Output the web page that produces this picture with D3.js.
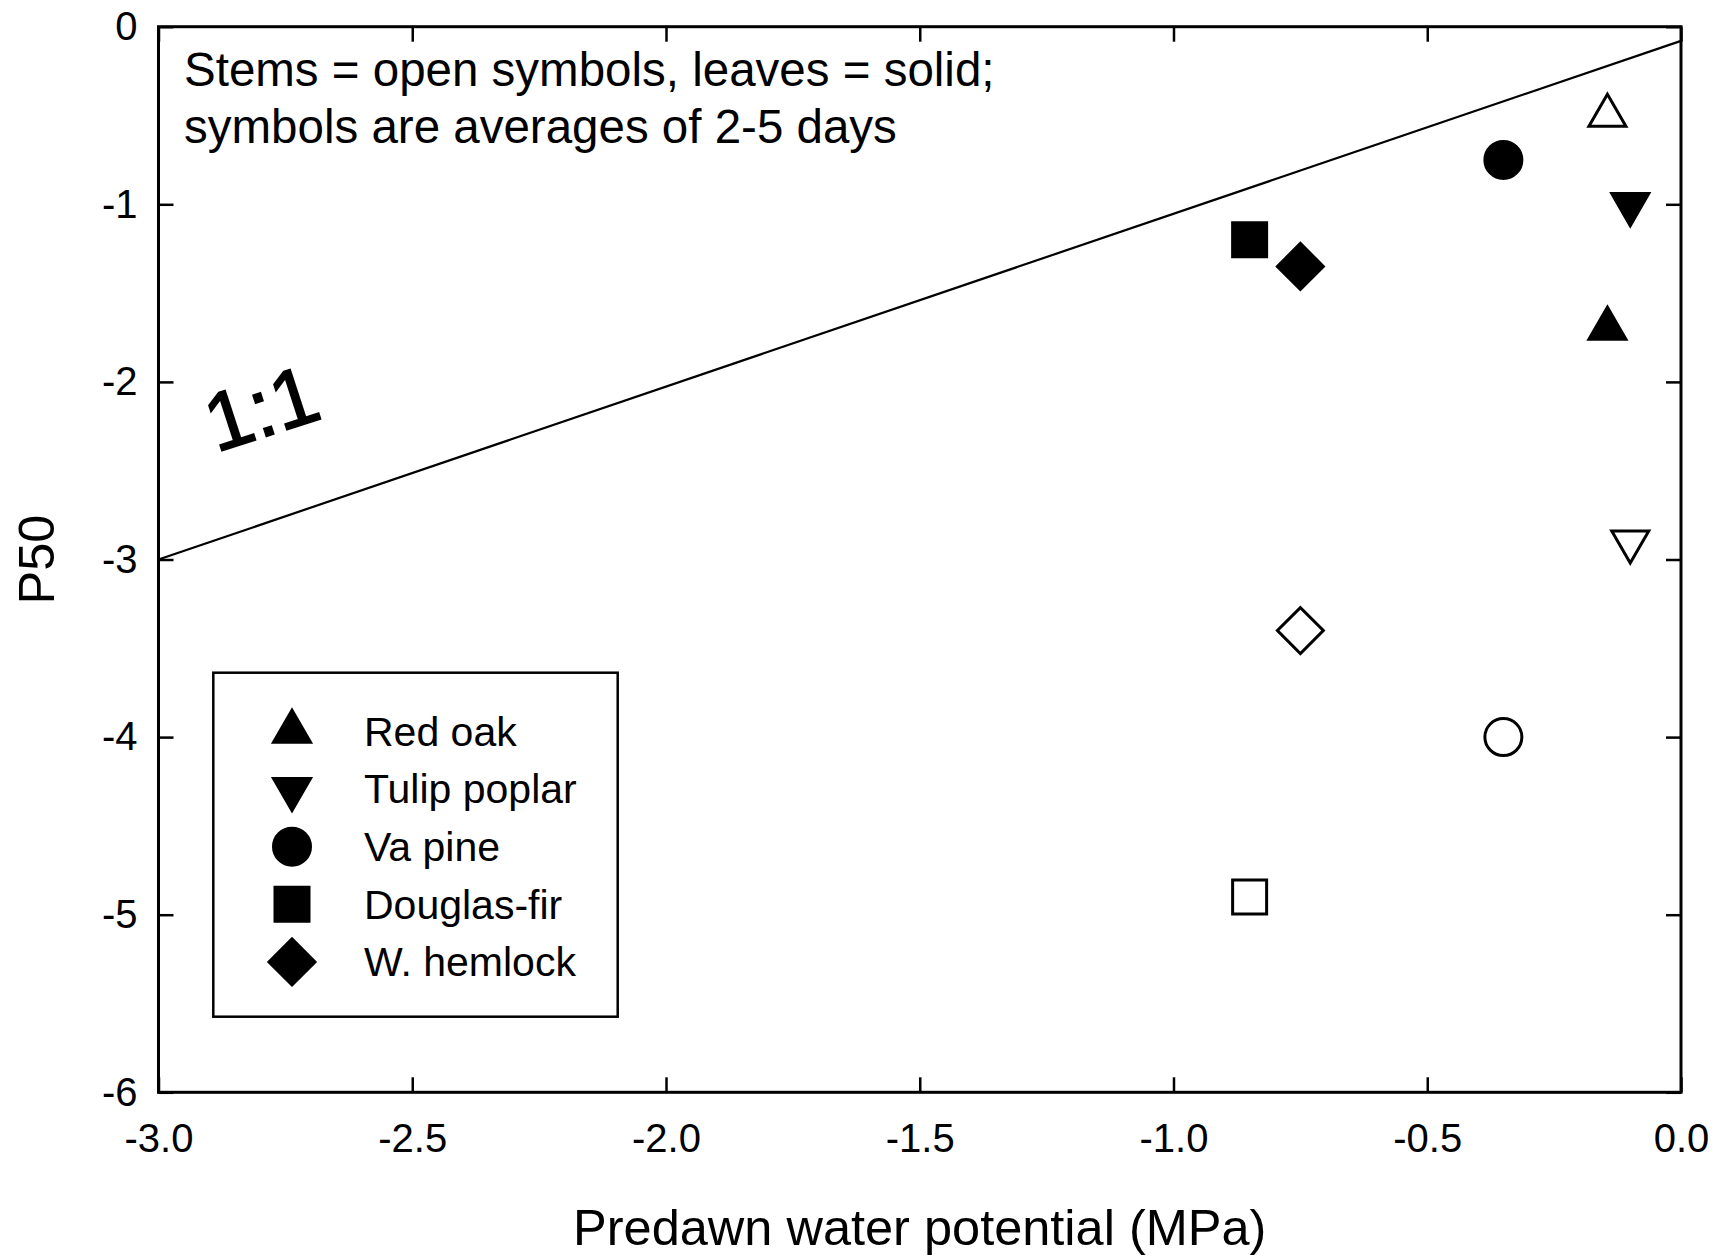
<!DOCTYPE html>
<html>
<head>
<meta charset="utf-8">
<script src="https://cdn.jsdelivr.net/npm/d3@7"></script>
<style>
  body { margin: 0; background: #fff; }
  svg { display: block; }
  text { font-family: "Liberation Sans", Arial, Helvetica, sans-serif; fill: #000; }
</style>
</head>
<body>
<svg id="chart" width="1713" height="1255"></svg>
<script>
// Species and their symbol shapes
const species = ["Red oak", "Tulip poplar", "Va pine", "Douglas-fir", "W. hemlock"];
const speciesShape = ["triangle", "triangleDown", "circle", "square", "diamond"];

// Predawn water potential (MPa) for each species
const predawn = [-0.145, -0.10, -0.35, -0.85, -0.75];
// P50 of leaves (solid symbols) and stems (open symbols)
const leafP50 = [-1.70, -1.00, -0.75, -1.20, -1.35];
const stemP50 = [-0.50, -2.90, -4.00, -4.90, -3.40];

// Axis ticks
const xTicks = [-3.0, -2.5, -2.0, -1.5, -1.0, -0.5, 0.0];
const yTicks = [0, -1, -2, -3, -4, -5, -6];

// Reference line and its label
const refLineX = [-3, 0];
const refLineY = [-3, -0.08];
const refLabelPos = [-2.78, -2.30];
const refLabelText = "1:1";

const noteLines = ["Stems = open symbols, leaves = solid;", "symbols are averages of 2-5 days"];
const xTitle = "Predawn water potential (MPa)";
const yTitle = "P50";

const svg = d3.select("#chart");
const plot = { left: 158.5, right: 1681, top: 26.7, bottom: 1092.3 };

const x = d3.scaleLinear().domain([-3, 0]).range([plot.left, plot.right]);
const y = d3.scaleLinear().domain([0, -6]).range([plot.top, plot.bottom]);

const FONT = '"Liberation Sans", Arial, Helvetica, sans-serif';

// Symbol definitions (d3 symbol + rotation)
const shapes = {
  triangle:     { type: d3.symbolTriangle, size: 593,  rotate: 0 },
  triangleDown: { type: d3.symbolTriangle, size: 593,  rotate: 180 },
  circle:       { type: d3.symbolCircle,   size: 1075, rotate: 0 },
  square:       { type: d3.symbolSquare,   size: 1156, rotate: 0 },
  diamond:      { type: d3.symbolSquare,   size: 1058, rotate: 45 }
};

function drawMarker(g, key, cx, cy, filled) {
  const s = shapes[key];
  g.append("path")
    .attr("d", d3.symbol().type(s.type).size(s.size)())
    .attr("transform", `translate(${cx},${cy}) rotate(${s.rotate})`)
    .attr("fill", filled ? "#000" : "#fff")
    .attr("stroke", "#000")
    .attr("stroke-width", 3)
    .attr("stroke-linejoin", "miter");
}

function styleAxis(g) {
  g.select(".domain").remove();
  g.attr("font-family", FONT).attr("font-size", 40);
  g.selectAll(".tick line").attr("stroke", "#000").attr("stroke-width", 2.5);
  g.selectAll(".tick text").attr("fill", "#000");
}

// Bottom axis with labels, inward ticks
svg.append("g")
  .attr("transform", `translate(0,${plot.bottom})`)
  .call(d3.axisBottom(x).tickValues(xTicks).tickFormat(d => d.toFixed(1))
    .tickSizeInner(-15).tickSizeOuter(0).tickPadding(31))
  .call(styleAxis);

// Top mirror ticks
svg.append("g")
  .attr("transform", `translate(0,${plot.top})`)
  .call(d3.axisTop(x).tickValues(xTicks).tickFormat("")
    .tickSizeInner(-15).tickSizeOuter(0))
  .call(styleAxis);

// Left axis with labels
svg.append("g")
  .attr("transform", `translate(${plot.left},0)`)
  .call(d3.axisLeft(y).tickValues(yTicks).tickFormat(d => String(d))
    .tickSizeInner(-15).tickSizeOuter(0).tickPadding(21))
  .call(styleAxis);

// Right mirror ticks
svg.append("g")
  .attr("transform", `translate(${plot.right},0)`)
  .call(d3.axisRight(y).tickValues(yTicks).tickFormat("")
    .tickSizeInner(-15).tickSizeOuter(0))
  .call(styleAxis);

// Plot frame
svg.append("rect")
  .attr("x", plot.left).attr("y", plot.top)
  .attr("width", plot.right - plot.left).attr("height", plot.bottom - plot.top)
  .attr("fill", "none").attr("stroke", "#000").attr("stroke-width", 3);

// Reference line
svg.append("path")
  .datum(refLineX.map((v, i) => [v, refLineY[i]]))
  .attr("d", d3.line().x(d => x(d[0])).y(d => y(d[1])))
  .attr("fill", "none").attr("stroke", "#000").attr("stroke-width", 2.2);

// Reference line label
const lx = x(refLabelPos[0]), ly = y(refLabelPos[1]);
svg.append("text")
  .attr("x", lx).attr("y", ly)
  .attr("transform", `rotate(-18,${lx},${ly})`)
  .attr("text-anchor", "middle")
  .attr("font-size", 82)
  .attr("stroke", "#000").attr("stroke-width", 1.6)
  .text(refLabelText);

// Note in the upper left
svg.append("g").selectAll("text").data(noteLines).join("text")
  .attr("x", 184).attr("y", (d, i) => 86 + i * 57)
  .attr("font-size", 47.5)
  .text(d => d);

// Data points: stems open, leaves solid
const pts = svg.append("g");
species.forEach((sp, i) => {
  drawMarker(pts, speciesShape[i], x(predawn[i]), y(stemP50[i]), false);
  drawMarker(pts, speciesShape[i], x(predawn[i]), y(leafP50[i]), true);
});

// Legend
const legend = svg.append("g");
legend.append("rect")
  .attr("x", 213.3).attr("y", 672.7).attr("width", 404.4).attr("height", 344)
  .attr("fill", "#fff").attr("stroke", "#000").attr("stroke-width", 2.5);
species.forEach((sp, i) => {
  const cy = 731.5 + i * 57.6;
  drawMarker(legend, speciesShape[i], 292, cy, true);
  legend.append("text")
    .attr("x", 364).attr("y", cy).attr("dy", "0.35em")
    .attr("font-size", 41)
    .text(sp);
});

// Axis titles
svg.append("text")
  .attr("x", (plot.left + plot.right) / 2).attr("y", 1245)
  .attr("text-anchor", "middle").attr("font-size", 50.5)
  .text(xTitle);

svg.append("text")
  .attr("transform", `translate(54,${(plot.top + plot.bottom) / 2}) rotate(-90)`)
  .attr("text-anchor", "middle").attr("font-size", 50.5)
  .text(yTitle);
</script>
</body>
</html>
